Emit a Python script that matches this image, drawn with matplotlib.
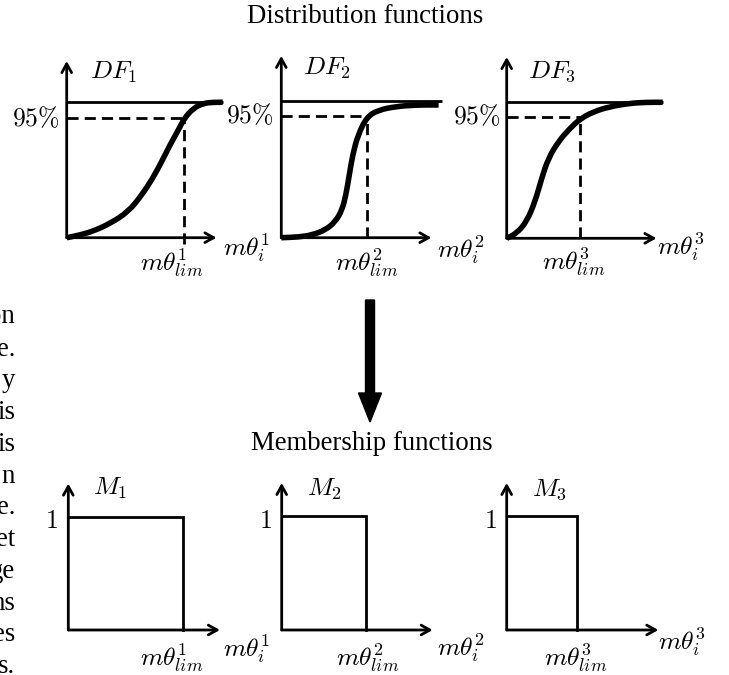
import matplotlib
matplotlib.use("Agg")
import matplotlib.pyplot as plt
from matplotlib.path import Path
from matplotlib.patches import PathPatch

# values, normalised: x = 0..1 from y-axis to end of top line,
# y = 0..1 from x-axis to the 100% line
df1_x = [0.0, 0.085, 0.171, 0.278, 0.395, 0.481, 0.551, 0.609, 0.662, 0.716, 0.754, 0.812, 0.876, 0.94, 1.0]
df1_y = [0.0, 0.02, 0.049, 0.105, 0.192, 0.315, 0.438, 0.562, 0.685, 0.796, 0.882, 0.956, 0.993, 1.0, 1.0]

df2_x = [0.0, 0.108, 0.191, 0.274, 0.336, 0.378, 0.402, 0.423, 0.444, 0.477, 0.533, 0.606, 0.71, 0.834, 0.979]
df2_y = [0.0, 0.005, 0.02, 0.056, 0.117, 0.202, 0.312, 0.459, 0.605, 0.751, 0.885, 0.934, 0.959, 0.971, 0.971]

df3_x = [0.0, 0.064, 0.128, 0.182, 0.224, 0.267, 0.331, 0.406, 0.47, 0.556, 0.662, 0.79, 0.897, 1.0]
df3_y = [0.0, 0.037, 0.123, 0.27, 0.441, 0.588, 0.711, 0.809, 0.877, 0.931, 0.968, 0.993, 1.0, 1.0]

df_level = [0.882, 0.893, 0.895]      # the 95% dashed line
df_lim = [0.754, 0.533, 0.47]         # m theta_lim on the DF panels
m_lim = [0.737, 0.538, 0.449]         # m theta_lim on the membership panels

df_names = [r"$DF_1$", r"$DF_2$", r"$DF_3$"]
m_names = [r"$M_1$", r"$M_2$", r"$M_3$"]
lim_labels = [r"$m\theta^1_{lim}$", r"$m\theta^2_{lim}$", r"$m\theta^3_{lim}$"]
var_labels = [r"$m\theta^1_i$", r"$m\theta^2_i$", r"$m\theta^3_i$"]
side_text = ["on", "e.", "y", "is", "is", "n", "e.", "et", "ge", "ns", "es", "s."]

plt.rcParams["mathtext.fontset"] = "cm"
plt.rcParams["font.family"] = "Liberation Serif"

W, H = 729, 675
MATH = 18.5
SERIF = 19.3

fig = plt.figure(figsize=(W / 100, H / 100), dpi=100)

# pixel-space canvas for titles, the big arrow and the cut-off column text
bg = fig.add_axes([0, 0, 1, 1])
bg.set_xlim(0, W)
bg.set_ylim(H, 0)
bg.axis("off")


def panel(left, origin, w, h):
    ax = fig.add_axes([left / W, (H - origin) / H, w / W, h / H])
    ax.set_xlim(0, 1)
    ax.set_ylim(0, 1)
    ax.axis("off")
    return ax


def axis_arrow(ax, x, y):
    ax.annotate("", xy=(x, y), xytext=(0, 0), annotation_clip=False,
                arrowprops=dict(arrowstyle="->,head_length=0.45,head_width=0.25",
                                lw=2.0, color="k", shrinkA=0, shrinkB=0,
                                mutation_scale=14))


def smooth_curve(ax, xs, ys):
    # quadratic bezier through the midpoints, read points act as control points
    pts = list(zip(xs, ys))
    mid = lambda a, b: ((a[0] + b[0]) / 2, (a[1] + b[1]) / 2)
    verts = [pts[0], mid(pts[0], pts[1])]
    codes = [Path.MOVETO, Path.LINETO]
    for k in range(1, len(pts) - 1):
        verts += [pts[k], mid(pts[k], pts[k + 1])]
        codes += [Path.CURVE3, Path.CURVE3]
    verts.append(pts[-1])
    codes.append(Path.LINETO)
    ax.add_patch(PathPatch(Path(verts, codes), fill=False, lw=4.0, ec="k",
                           clip_on=False, capstyle="butt", joinstyle="round"))


# layout of each panel in pixels: (y-axis x, x-axis y, width, height)
df_boxes = [(66.7, 237.7, 156, 135.4), (281.3, 237.7, 160.7, 136.7), (506.7, 238.3, 156, 136)]
m_boxes = [(68.3, 630, 156, 113.5), (281.7, 630, 156, 114), (506.7, 630, 156, 114)]

df_curves = [(df1_x, df1_y), (df2_x, df2_y), (df3_x, df3_y)]
df_xtip = [0.96, 0.934, 0.96]
df_ytip = [1.305, 1.33, 1.333]
df_tick = [-0.05, 0.0, 0.0]
df_name_pos = [(0.15, 1.224), (0.135, 1.241), (0.137, 1.223)]
df_pct_x = [-0.043, -0.05, -0.04]
df_lim_pos = [(0.672, -0.18), (0.531, -0.18), (0.431, -0.174)]
df_var_pos = [(1.0, -0.076), (0.969, -0.09), (0.963, -0.057)]

for i in range(3):
    ax = panel(*df_boxes[i])
    axis_arrow(ax, 0, df_ytip[i])
    axis_arrow(ax, df_xtip[i], 0)
    ax.plot([0, 1], [1, 1], color="k", lw=2.0, clip_on=False, solid_capstyle="butt")
    ax.plot([0, df_lim[i]], [df_level[i], df_level[i]], color="k", lw=2.0,
            ls=(0, (4, 2.2)), clip_on=False)
    ax.plot([df_lim[i], df_lim[i]], [df_tick[i], df_level[i]], color="k", lw=2.0,
            ls=(0, (4, 2.2)), clip_on=False)
    smooth_curve(ax, *df_curves[i])
    ax.text(*df_name_pos[i], df_names[i], fontsize=MATH, ha="left", va="center")
    ax.text(df_pct_x[i], df_level[i], r"$95\%$", fontsize=MATH, ha="right", va="center")
    ax.text(*df_lim_pos[i], lim_labels[i], fontsize=MATH, ha="center", va="center")
    ax.text(*df_var_pos[i], var_labels[i], fontsize=MATH, ha="left", va="center")

m_xtip = [0.972, 0.968, 0.972]
m_name_pos = [(0.158, 1.25), (0.16, 1.233), (0.16, 1.233)]
m_lim_pos = [(0.665, -0.24), (0.553, -0.24), (0.444, -0.24)]
m_var_pos = [(0.99, -0.16), (0.994, -0.15), (0.972, -0.097)]

for i in range(3):
    ax = panel(*m_boxes[i])
    axis_arrow(ax, 0, 1.29)
    axis_arrow(ax, m_xtip[i], 0)
    ax.plot([0, m_lim[i], m_lim[i]], [1, 1, 0], color="k", lw=2.0, clip_on=False,
            solid_joinstyle="miter")
    ax.text(*m_name_pos[i], m_names[i], fontsize=MATH, ha="left", va="center")
    ax.text(-0.065, 0.95, r"$1$", fontsize=MATH, ha="right", va="center")
    ax.text(*m_lim_pos[i], lim_labels[i], fontsize=MATH, ha="center", va="center")
    ax.text(*m_var_pos[i], var_labels[i], fontsize=MATH, ha="left", va="center")

bg.text(365, 23, "Distribution functions", fontsize=SERIF, ha="center", va="baseline")
bg.text(372, 450, "Membership functions", fontsize=SERIF, ha="center", va="baseline")

bg.arrow(370, 300, 0, 122, width=9, head_width=23, head_length=29,
         length_includes_head=True, fc="k", ec="k")

side_y = [323, 356, 387, 419, 451, 483, 514, 546, 578, 610, 641, 673]
for s, y in zip(side_text, side_y):
    bg.text(15, y, s, fontsize=SERIF, ha="right", va="baseline")

fig.savefig("out.png", dpi=100)
